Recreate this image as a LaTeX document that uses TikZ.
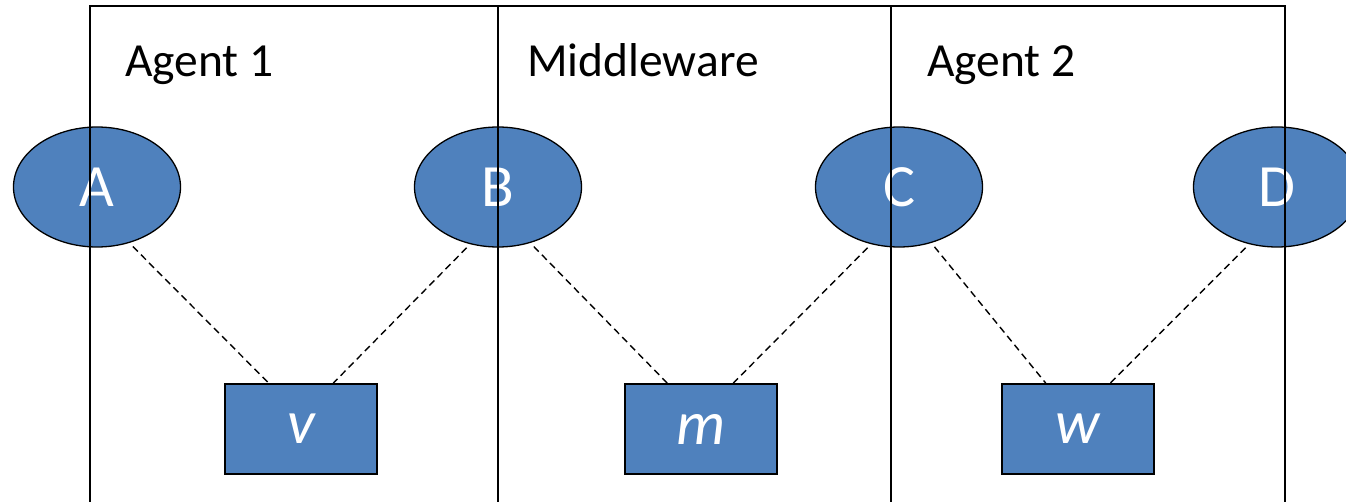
\documentclass[tikz,border=0pt]{standalone}
\usepackage{fontspec}
\setmainfont{Carlito}
\usetikzlibrary{shapes.geometric,calc}
\definecolor{boxblue}{HTML}{4F81BD}
\begin{document}
\begin{tikzpicture}[x=1pt,y=-1pt,
  state/.style={ellipse, draw=black, line width=1.3pt, fill=boxblue,
    minimum width=167pt, minimum height=120pt, inner sep=0pt, text=white,
    font=\fontsize{60}{60}\selectfont},
  var/.style={rectangle, draw=black, line width=1.8pt, fill=boxblue,
    minimum width=152pt, minimum height=90pt, inner sep=0pt, text=white,
    font=\fontsize{62}{62}\selectfont\itshape},
  link/.style={line width=1.4pt, dash pattern=on 7pt off 4.5pt, shorten <=5pt},
  region/.style={draw=black, line width=1.3pt},
  title/.style={anchor=base west, inner sep=0pt, font=\fontsize{47.5}{47.5}\selectfont}]
\useasboundingbox (0,0) rectangle (1346,502);
\clip (0,0) rectangle (1346,502);

% interface states
\node[state] (A) at (97,187) {A};
\node[state] (B) at (498,187) {B};
\node[state] (C) at (899,187) {C};
\node[state] (D) at (1277,187) {D};

% variables
\node[var] (v) at (301,429) {v};
\node[var] (m) at (701,429) {m};
\node[var] (w) at (1078,429) {w};

% dashed links from states to variables
\draw[link] (A.-60) -- ($(v.north west)!0.29!(v.north east)$);
\draw[link] (B.-116) -- ($(v.north west)!0.71!(v.north east)$);
\draw[link] (B.-60) -- ($(m.north west)!0.28!(m.north east)$);
\draw[link] (C.-116) -- ($(m.north west)!0.71!(m.north east)$);
\draw[link] (C.-60) -- ($(w.north west)!0.29!(w.north east)$);
\draw[link] (D.-116) -- ($(w.north west)!0.71!(w.north east)$);

% component regions, open at the bottom
\draw[region] (90,520) -- (90,6) -- (1285,6) -- (1285,520);
\draw[region] (498,6) -- (498,520);
\draw[region] (891,6) -- (891,520);

% region titles
\node[title] (t1) at (125,77) {Agent 1};
\node[title] (t2) at (527,77) {Middleware};
\node[title] (t3) at (927,77) {Agent 2};
\end{tikzpicture}
\end{document}
